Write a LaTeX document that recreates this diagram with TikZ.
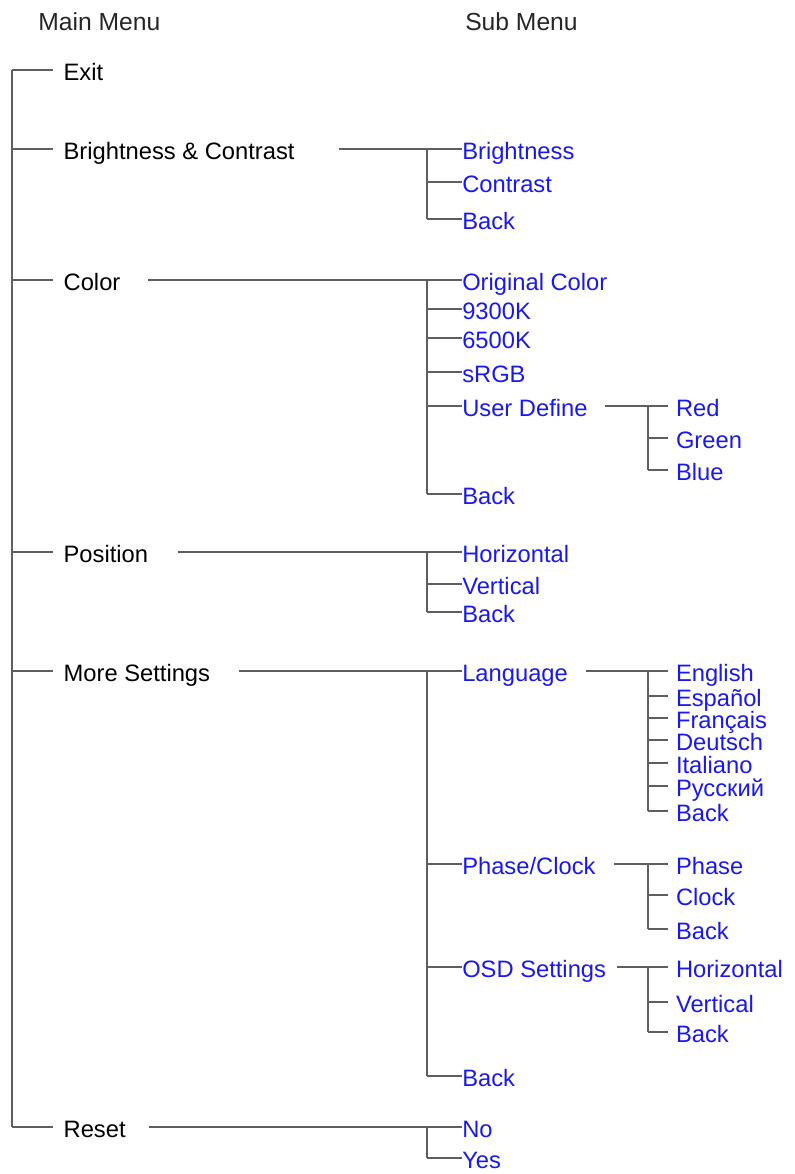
\documentclass[tikz,border=0pt]{standalone}
\usepackage{fontspec}
\setmainfont{Liberation Sans}
\usetikzlibrary{calc}
\definecolor{menublue}{RGB}{25,25,235}
\definecolor{treegray}{RGB}{95,95,95}
\tikzset{
    menutext/.style={anchor=west, inner sep=0pt, text height=15pt, text depth=0pt,
        font=\fontsize{17.8}{20}\selectfont},
    mainitem/.style={menutext, text=black, outer xsep=8pt},
    subitem/.style={menutext, text=menublue},
    leafitem/.style={menutext, text=menublue, outer xsep=6pt},
    branch/.style={draw=treegray, line width=1pt},
    heading/.style={anchor=base west, inner sep=0pt, text=black!85,
        font=\fontsize{18.5}{22}\selectfont}
}
\begin{document}
\begin{tikzpicture}[x=0.75pt, y=-0.75pt]
    \useasboundingbox (0,0) rectangle (794,1174);

    % Headings
    \node[heading] (hmain) at (38,30) {Main Menu};
    \node[heading] (hsub) at (465,30) {Sub Menu};

    % Trunks
    \coordinate (trunk) at (12,0);
    \coordinate (subtrunk) at (427,0);
    \coordinate (leaftrunk) at (648,0);

    % Main menu
    \node[mainitem] (exit) at (53,70) {Exit};
    \node[mainitem] (bc) at (53,149) {Brightness \& Contrast};
    \node[mainitem] (color) at (53,280) {Color};
    \node[mainitem] (pos) at (53,552) {Position};
    \node[mainitem] (more) at (53,671) {More Settings};
    \node[mainitem] (reset) at (53,1127) {Reset};

    \draw[branch] (trunk |- exit.west) -- (trunk |- reset.west);
    \foreach \n in {exit,bc,color,pos,more,reset} {
            \draw[branch] (trunk |- \n.west) -- (\n.west);
        }

    % Brightness & Contrast
    \foreach \n/\lbl/\y in {bc-bri/Brightness/149, bc-con/Contrast/182, bc-back/Back/219} {
            \node[subitem] (\n) at (462,\y) {\lbl};
        }
    \draw[branch] ($(bc.east)+(34,0)$) -- (bc-bri.west);
    \draw[branch] (subtrunk |- bc-bri.west) -- (subtrunk |- bc-back.west);
    \foreach \n in {bc-con,bc-back} {
            \draw[branch] (subtrunk |- \n.west) -- (\n.west);
        }

    % Color
    \foreach \n/\lbl/\y in {col-orig/Original Color/280, col-93/9300K/309, col-65/6500K/338,
            col-srgb/sRGB/372, col-user/User Define/406, col-back/Back/494} {
            \node[subitem] (\n) at (462,\y) {\lbl};
        }
    \draw[branch] ($(color.east)+(17,0)$) -- (col-orig.west);
    \draw[branch] (subtrunk |- col-orig.west) -- (subtrunk |- col-back.west);
    \foreach \n in {col-93,col-65,col-srgb,col-user,col-back} {
            \draw[branch] (subtrunk |- \n.west) -- (\n.west);
        }

    % User Define
    \foreach \n/\lbl/\y in {usr-red/Red/406, usr-green/Green/438, usr-blue/Blue/470} {
            \node[leafitem] (\n) at (668,\y) {\lbl};
        }
    \draw[branch] ($(col-user.east)+(17,0)$) -- (usr-red.west);
    \draw[branch] (leaftrunk |- usr-red.west) -- (leaftrunk |- usr-blue.west);
    \foreach \n in {usr-green,usr-blue} {
            \draw[branch] (leaftrunk |- \n.west) -- (\n.west);
        }

    % Position
    \foreach \n/\lbl/\y in {pos-hor/Horizontal/552, pos-ver/Vertical/584, pos-back/Back/612} {
            \node[subitem] (\n) at (462,\y) {\lbl};
        }
    \draw[branch] ($(pos.east)+(19,0)$) -- (pos-hor.west);
    \draw[branch] (subtrunk |- pos-hor.west) -- (subtrunk |- pos-back.west);
    \foreach \n in {pos-ver,pos-back} {
            \draw[branch] (subtrunk |- \n.west) -- (\n.west);
        }

    % More Settings
    \foreach \n/\lbl/\y in {ms-lang/Language/671, ms-phase/Phase\slash Clock/864,
            ms-osd/OSD Settings/967, ms-back/Back/1076} {
            \node[subitem] (\n) at (462,\y) {\lbl};
        }
    \draw[branch] ($(more.east)+(18,0)$) -- (ms-lang.west);
    \draw[branch] (subtrunk |- ms-lang.west) -- (subtrunk |- ms-back.west);
    \foreach \n in {ms-phase,ms-osd,ms-back} {
            \draw[branch] (subtrunk |- \n.west) -- (\n.west);
        }

    % Language
    \foreach \n/\lbl/\y in {lang-en/English/671, lang-es/Español/696, lang-fr/Français/718,
            lang-de/Deutsch/740, lang-it/Italiano/763, lang-ru/Русский/786, lang-back/Back/811} {
            \node[leafitem] (\n) at (668,\y) {\lbl};
        }
    \draw[branch] ($(ms-lang.east)+(18,0)$) -- (lang-en.west);
    \draw[branch] (leaftrunk |- lang-en.west) -- (leaftrunk |- lang-back.west);
    \foreach \n in {lang-es,lang-fr,lang-de,lang-it,lang-ru,lang-back} {
            \draw[branch] (leaftrunk |- \n.west) -- (\n.west);
        }

    % Phase/Clock
    \foreach \n/\lbl/\y in {ph-phase/Phase/864, ph-clock/Clock/895, ph-back/Back/929} {
            \node[leafitem] (\n) at (668,\y) {\lbl};
        }
    \draw[branch] ($(ms-phase.east)+(18,0)$) -- (ph-phase.west);
    \draw[branch] (leaftrunk |- ph-phase.west) -- (leaftrunk |- ph-back.west);
    \foreach \n in {ph-clock,ph-back} {
            \draw[branch] (leaftrunk |- \n.west) -- (\n.west);
        }

    % OSD Settings
    \foreach \n/\lbl/\y in {osd-hor/Horizontal/967, osd-ver/Vertical/1002, osd-back/Back/1032} {
            \node[leafitem] (\n) at (668,\y) {\lbl};
        }
    \draw[branch] ($(ms-osd.east)+(11,0)$) -- (osd-hor.west);
    \draw[branch] (leaftrunk |- osd-hor.west) -- (leaftrunk |- osd-back.west);
    \foreach \n in {osd-ver,osd-back} {
            \draw[branch] (leaftrunk |- \n.west) -- (\n.west);
        }

    % Reset
    \foreach \n/\lbl/\y in {rs-no/No/1127, rs-yes/Yes/1158} {
            \node[subitem] (\n) at (462,\y) {\lbl};
        }
    \draw[branch] ($(reset.east)+(13,0)$) -- (rs-no.west);
    \draw[branch] (subtrunk |- rs-no.west) -- (subtrunk |- rs-yes.west);
    \draw[branch] (subtrunk |- rs-yes.west) -- (rs-yes.west);
\end{tikzpicture}
\end{document}
